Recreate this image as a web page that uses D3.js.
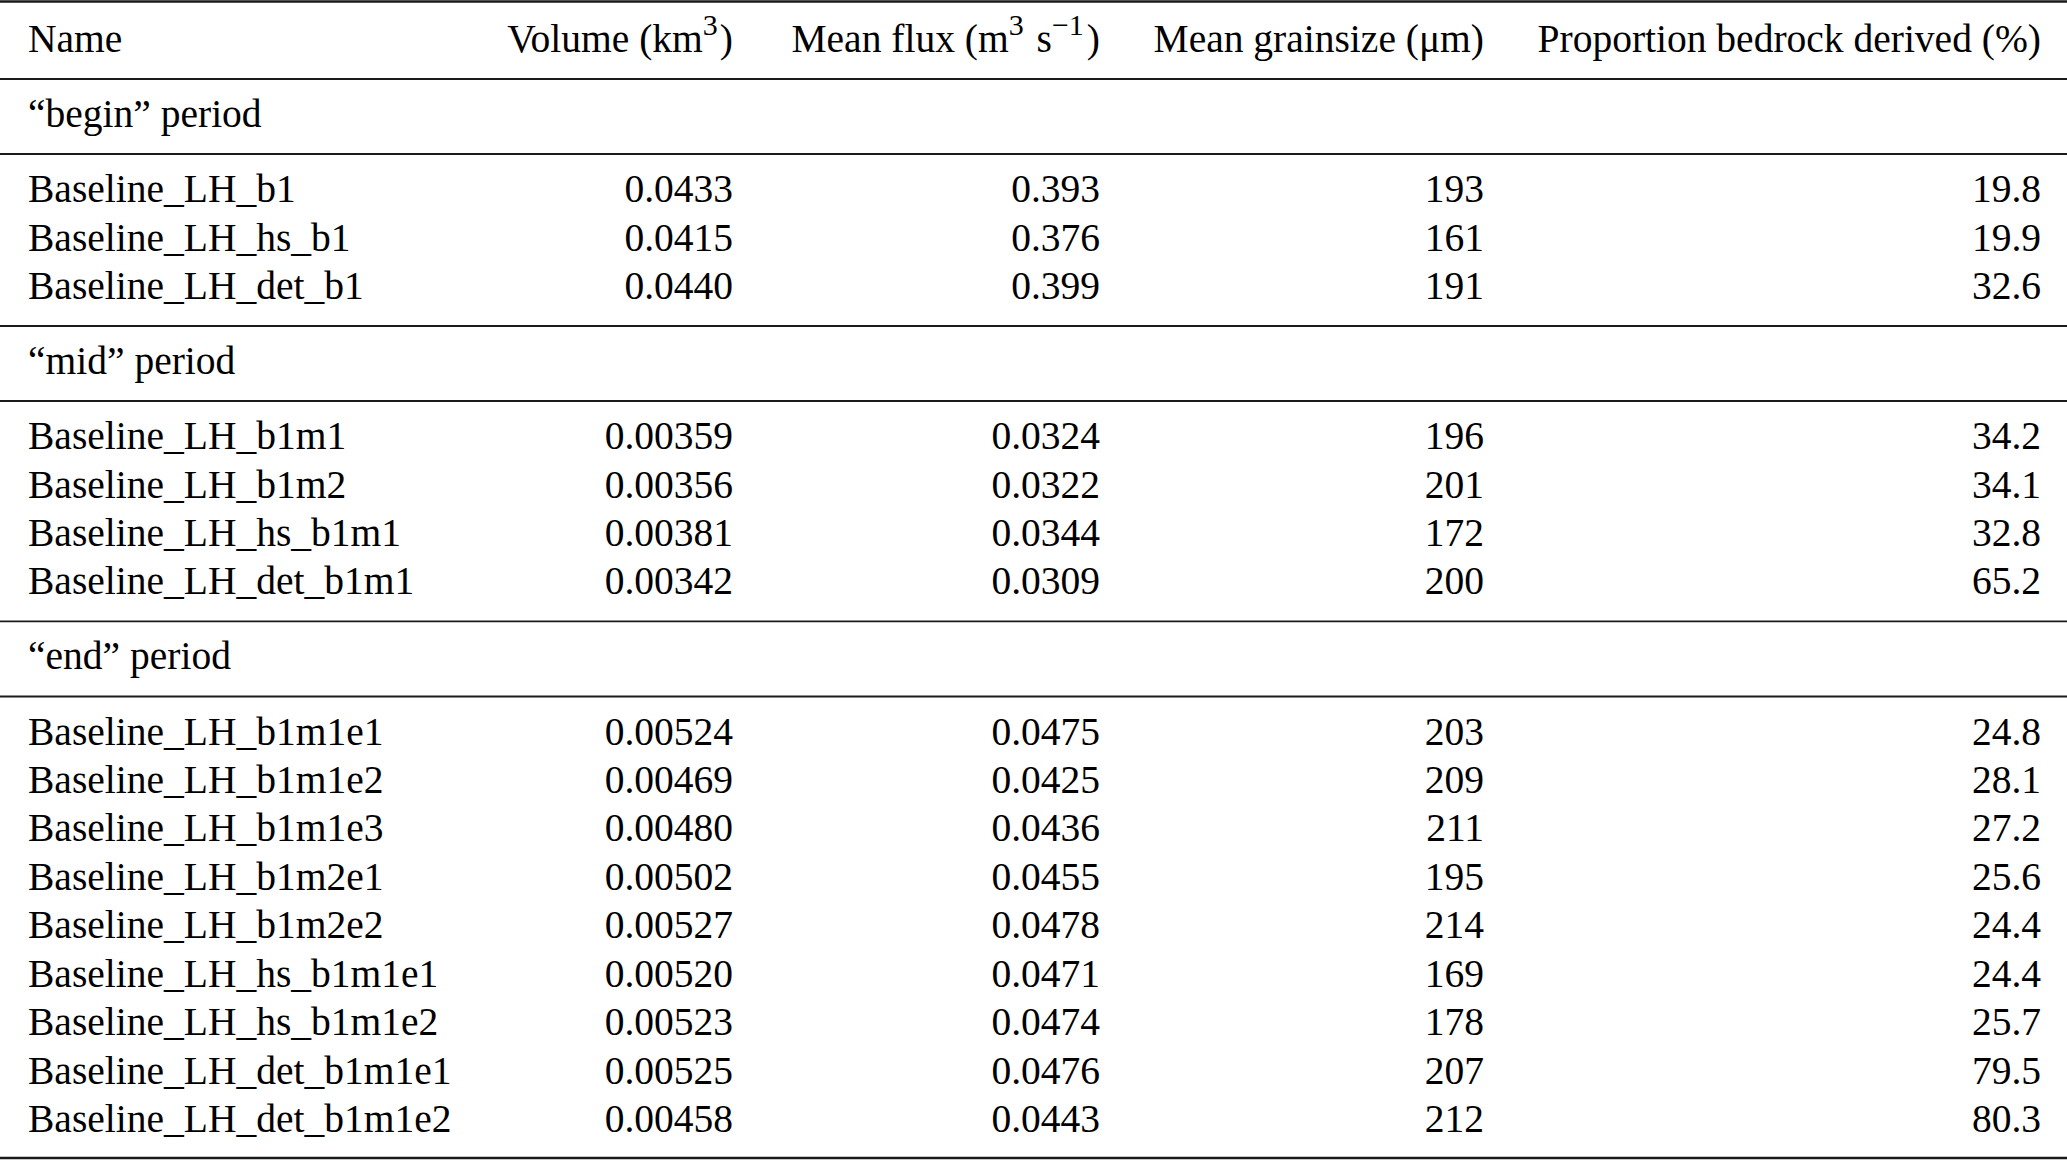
<!DOCTYPE html>
<html>
<head>
<meta charset="utf-8">
<script src="https://cdn.jsdelivr.net/npm/d3@7/dist/d3.min.js"></script>
<style>
  body { margin: 0; background: #fff; }
  svg { display: block; }
  text { font-family: "Liberation Serif", "Times New Roman", serif; font-size: 39.5px; fill: #000; }
</style>
</head>
<body>
<svg id="table"></svg>
<script>
// table data
var groupLabels = ["\u201cbegin\u201d period", "\u201cmid\u201d period", "\u201cend\u201d period"];
var groupSizes = [3, 4, 9];

var names = [
  "Baseline_LH_b1", "Baseline_LH_hs_b1", "Baseline_LH_det_b1",
  "Baseline_LH_b1m1", "Baseline_LH_b1m2", "Baseline_LH_hs_b1m1", "Baseline_LH_det_b1m1",
  "Baseline_LH_b1m1e1", "Baseline_LH_b1m1e2", "Baseline_LH_b1m1e3", "Baseline_LH_b1m2e1",
  "Baseline_LH_b1m2e2", "Baseline_LH_hs_b1m1e1", "Baseline_LH_hs_b1m1e2",
  "Baseline_LH_det_b1m1e1", "Baseline_LH_det_b1m1e2"
];
var volume = [0.0433, 0.0415, 0.0440,
  0.00359, 0.00356, 0.00381, 0.00342,
  0.00524, 0.00469, 0.00480, 0.00502, 0.00527, 0.00520, 0.00523, 0.00525, 0.00458];
var meanFlux = [0.393, 0.376, 0.399,
  0.0324, 0.0322, 0.0344, 0.0309,
  0.0475, 0.0425, 0.0436, 0.0455, 0.0478, 0.0471, 0.0474, 0.0476, 0.0443];
var grainsize = [193, 161, 191,
  196, 201, 172, 200,
  203, 209, 211, 195, 214, 169, 178, 207, 212];
var bedrock = [19.8, 19.9, 32.6,
  34.2, 34.1, 32.8, 65.2,
  24.8, 28.1, 27.2, 25.6, 24.4, 24.4, 25.7, 79.5, 80.3];

var columns = ["name", "volume", "flux", "grain", "bedrock"];

var screen = { width: 2067, height: 1161 };
var margins = { left: 28, right: 26, top: 52, bottom: 1132 };
var ruleStep = 1.55;   // extra room (in row units) where a rule sits between lines
var ruleGap = 27;      // rule sits this far below the baseline above it

// build the line sequence: header, group label, rows ...
var lines = [];
var pos = 0;
lines.push({ kind: "header", pos: pos, ruleAfter: true });
var k = 0;
groupLabels.forEach(function(label, g){
  pos += ruleStep;
  lines.push({ kind: "group", text: label, pos: pos, ruleAfter: true });
  for (var i = 0; i < groupSizes[g]; i++) {
    pos += (i == 0) ? ruleStep : 1;
    lines.push({ kind: "row", idx: k, pos: pos, ruleAfter: i == groupSizes[g] - 1 });
    k++;
  }
});

var yScale = d3.scaleLinear()
               .domain([0, pos])
               .range([margins.top, margins.bottom]);

var xScale = d3.scaleOrdinal()
               .domain(columns)
               .range([margins.left, 733, 1100, 1484, screen.width - margins.right]);

var fmt = d3.format(".3r");

var svg = d3.select("#table")
            .attr("width", screen.width)
            .attr("height", screen.height);

// rules
var rules = [{ y: 1.5, w: 2.6 }];
lines.forEach(function(line, i){
  if (line.ruleAfter) {
    var last = (i == lines.length - 1);
    rules.push({ y: yScale(line.pos) + (last ? 26 : ruleGap), w: last ? 2.6 : 1.9 });
  }
});

svg.append("g").selectAll("line")
   .data(rules)
   .enter()
   .append("line")
   .attr("x1", 0)
   .attr("x2", screen.width)
   .attr("y1", function(r){ return r.y; })
   .attr("y2", function(r){ return r.y; })
   .attr("stroke", "#1a1a1a")
   .attr("stroke-width", function(r){ return r.w; });

// header
var header = svg.append("g").attr("class", "header");
var hy = yScale(0);
var supSize = "30px", supRise = 17;

header.append("text").attr("x", xScale("name")).attr("y", hy).text("Name");

var volHead = header.append("text").attr("x", xScale("volume")).attr("y", hy).attr("text-anchor", "end");
volHead.append("tspan").text("Volume (km");
volHead.append("tspan").attr("dy", -supRise).style("font-size", supSize).text("3");
volHead.append("tspan").attr("dy", supRise).attr("dx", 2).text(")");

var fluxHead = header.append("text").attr("x", xScale("flux")).attr("y", hy).attr("text-anchor", "end");
fluxHead.append("tspan").text("Mean flux (m");
fluxHead.append("tspan").attr("dy", -supRise).style("font-size", supSize).text("3");
fluxHead.append("tspan").attr("dy", supRise).attr("dx", 3).text(" s");
fluxHead.append("tspan").attr("dy", -supRise).style("font-size", supSize).text("\u22121");
fluxHead.append("tspan").attr("dy", supRise).attr("dx", 3).text(")");

header.append("text").attr("x", xScale("grain")).attr("y", hy).attr("text-anchor", "end")
      .text("Mean grainsize (\u03bcm)");
header.append("text").attr("x", xScale("bedrock")).attr("y", hy).attr("text-anchor", "end")
      .text("Proportion bedrock derived (%)");

// group labels
svg.append("g").selectAll("text")
   .data(lines.filter(function(l){ return l.kind == "group"; }))
   .enter()
   .append("text")
   .attr("x", xScale("name"))
   .attr("y", function(l){ return yScale(l.pos); })
   .text(function(l){ return l.text; });

// data rows
var rowLines = lines.filter(function(l){ return l.kind == "row"; });
var body = svg.append("g").attr("class", "body");

var cells = [];
rowLines.forEach(function(l){
  var i = l.idx;
  cells.push({ col: "name", pos: l.pos, text: names[i], anchor: "start" });
  cells.push({ col: "volume", pos: l.pos, text: fmt(volume[i]), anchor: "end" });
  cells.push({ col: "flux", pos: l.pos, text: fmt(meanFlux[i]), anchor: "end" });
  cells.push({ col: "grain", pos: l.pos, text: fmt(grainsize[i]), anchor: "end" });
  cells.push({ col: "bedrock", pos: l.pos, text: fmt(bedrock[i]), anchor: "end" });
});

body.selectAll("text")
    .data(cells)
    .enter()
    .append("text")
    .attr("x", function(c){ return xScale(c.col); })
    .attr("y", function(c){ return yScale(c.pos); })
    .attr("text-anchor", function(c){ return c.anchor; })
    .text(function(c){ return c.text; });
</script>
</body>
</html>
